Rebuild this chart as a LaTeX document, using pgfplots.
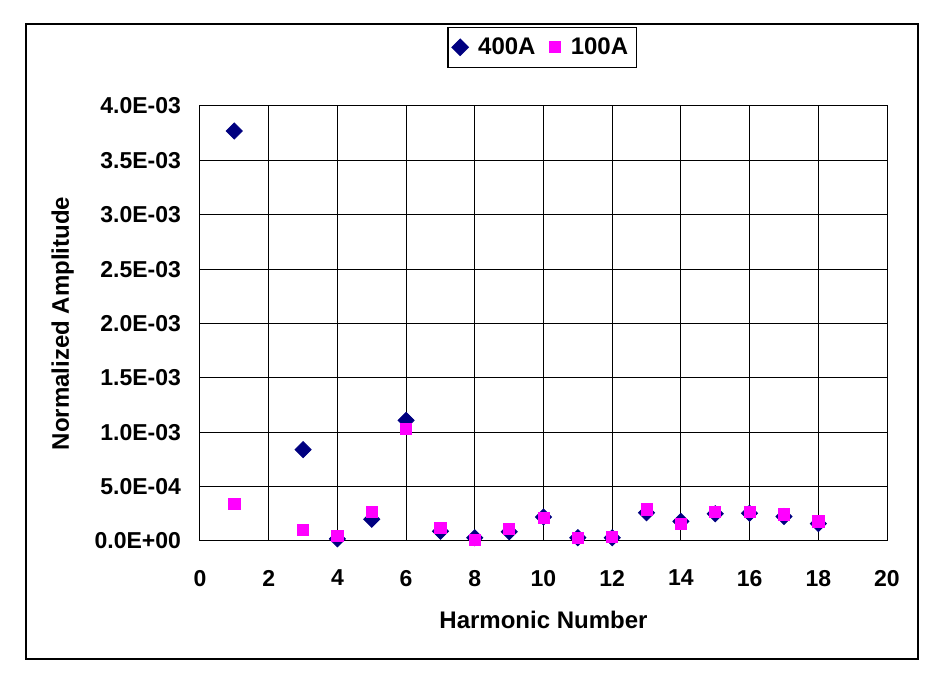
\documentclass[border=0pt]{standalone}
\usepackage{pgfplots}
\pgfplotsset{compat=1.18}
\usepackage{fontspec}
\setmainfont{Liberation Sans}
\definecolor{navy}{RGB}{0,0,128}
\definecolor{mag}{RGB}{255,0,255}
\begin{document}
\begin{tikzpicture}
\fill[white] (0,0) rectangle (472pt,336.5pt);
\draw[black, line width=0.6pt] (13pt,7pt) rectangle (459pt,324.5pt);
\begin{axis}[
  at={(100pt,66pt)}, anchor=south west,
  scale only axis, width=343.5pt, height=217.5pt,
  xmin=0, xmax=20, ymin=0, ymax=0.004,
  xtick={0,2,...,20},
  ytick={0,0.0005,0.001,0.0015,0.002,0.0025,0.003,0.0035,0.004},
  yticklabels={0.0E+00,5.0E-04,1.0E-03,1.5E-03,2.0E-03,2.5E-03,3.0E-03,3.5E-03,4.0E-03},
  scaled y ticks=false,
  /pgf/number format/assume math mode=true,
  major tick length=0pt,
  grid=major,
  major grid style={black, line width=0.5pt},
  axis line style={black, line width=0.5pt},
  ticklabel style={font=\fontsize{11.5}{13}\selectfont\bfseries},
  xticklabel style={yshift=-11pt},
  yticklabel style={xshift=-6pt},
  xlabel={Harmonic Number}, ylabel={Normalized Amplitude},
  label style={font=\fontsize{12}{14}\selectfont\bfseries},
  xlabel style={at={(axis description cs:0.5,-0.182)}, anchor=center},
  ylabel style={at={(axis description cs:-0.2,0.5)}, anchor=center},
  legend columns=2,
  legend style={at={(0.498,1.135)}, anchor=center, draw=black, line width=0.6pt,
    font=\fontsize{12}{14}\selectfont\bfseries, inner xsep=2pt, inner ysep=3pt,
    /tikz/every even column/.append style={column sep=5pt}},
  legend cell align=left,
]
\addplot[only marks, mark=square*, mark size=2.85pt, mark options={rotate=45, fill=navy, draw=navy}] coordinates {
(1,0.00377) (3,0.00084) (4,0.00002) (5,0.00020) (6,0.00111) (7,0.00009) (8,0.00003) (9,0.000085)
(10,0.00022) (11,0.00003) (12,0.00003) (13,0.00026) (14,0.00018) (15,0.00025) (16,0.000255)
(17,0.000225) (18,0.00016)
};
\addlegendentry{\hspace{3pt}400A}
\addplot[only marks, mark=square*, mark size=2.8pt, mark options={fill=mag, draw=mag}] coordinates {
(1,0.00034) (3,0.00010) (4,0.00005) (5,0.00027) (6,0.00103) (7,0.00012) (8,0.00001) (9,0.00011)
(10,0.00021) (11,0.00003) (12,0.00004) (13,0.00029) (14,0.00016) (15,0.00027) (16,0.000265)
(17,0.000245) (18,0.00018)
};
\addlegendentry{\hspace{3pt}100A}
\end{axis}
\end{tikzpicture}
\end{document}
